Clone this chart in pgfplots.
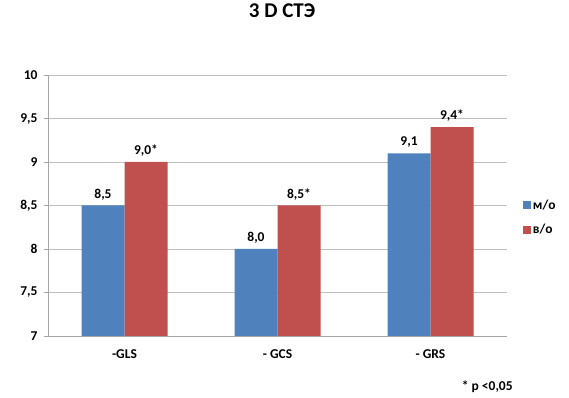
\documentclass[border=0pt]{standalone}
\usepackage{pgfplots}
\pgfplotsset{compat=1.18}
\usepackage{pgfplotstable}
\usepackage{fontspec}
\setmainfont{Carlito}
\definecolor{xblue}{HTML}{4F81BD}
\definecolor{xred}{HTML}{C0504D}
\definecolor{xgrid}{HTML}{BFBFBF}
\definecolor{xaxis}{HTML}{A6A6A6}
\pgfplotstableread{
x y lab
0 8.5 8,5
1 8.0 8,0
2 9.1 9,1
}\mo
\pgfplotstableread{
x y lab
0 9.0 9,0*
1 8.5 8,5*
2 9.4 9,4*
}\vo
\newcommand{\lbl}{\fontsize{13.5}{16}\selectfont\bfseries}
\begin{document}
\begin{tikzpicture}
\useasboundingbox (0,0) rectangle (569pt,398pt);
\begin{axis}[
  at={(48pt,62pt)}, anchor=south west,
  scale only axis, width=459pt, height=261pt,
  xmin=-0.5, xmax=2.5, ymin=7, ymax=10,
  ybar=0pt, bar width=43pt,
  axis x line=bottom, axis y line=left,
  axis line style={-, draw=xaxis, line width=0.8pt},
  xtick={0,1,2}, xticklabels={-GLS,- GCS,- GRS},
  x tick style={draw=none},
  extra x ticks={-0.5,0.5,1.5,2.5}, extra x tick labels={},
  extra x tick style={major tick length=5pt, tick align=outside, grid=none, tick style={draw=xaxis, line width=0.8pt}},
  ytick={7,7.5,...,10},
  y tick style={draw=xaxis, line width=0.8pt},
  tick align=outside, major tick length=4pt,
  ymajorgrids, major grid style={draw=xgrid, line width=0.9pt},
  /pgf/number format/use comma,
  /pgf/number format/assume math mode=true,
  ticklabel style={font=\lbl},
  yticklabel style={xshift=-3pt},
  xticklabel style={yshift=-6pt},
  point meta=explicit symbolic,
  nodes near coords,
  nodes near coords style={font=\lbl, anchor=south, yshift=2pt},
  legend style={draw=none, fill=none, font=\lbl, at={(1.032,0.454)}, anchor=west, row sep=10pt, inner sep=1pt},
  legend cell align=left,
  legend image code/.code={\fill[#1] (0pt,-4pt) rectangle (8pt,4pt);},
  title={3 D СТЭ},
  title style={font=\fontsize{21}{24}\selectfont\bfseries, anchor=center, at={(axis description cs:0.51,1.222)}},
  clip=false,
]
\addplot[fill=xblue, draw=none] table[x=x, y=y, meta=lab] {\mo};
\addplot[fill=xred, draw=none] table[x=x, y=y, meta=lab] {\vo};
\legend{м/о, в/о}
\node[font=\lbl] at (axis description cs:0.957,-0.195) {* p <0,05};
\end{axis}
\end{tikzpicture}
\end{document}
